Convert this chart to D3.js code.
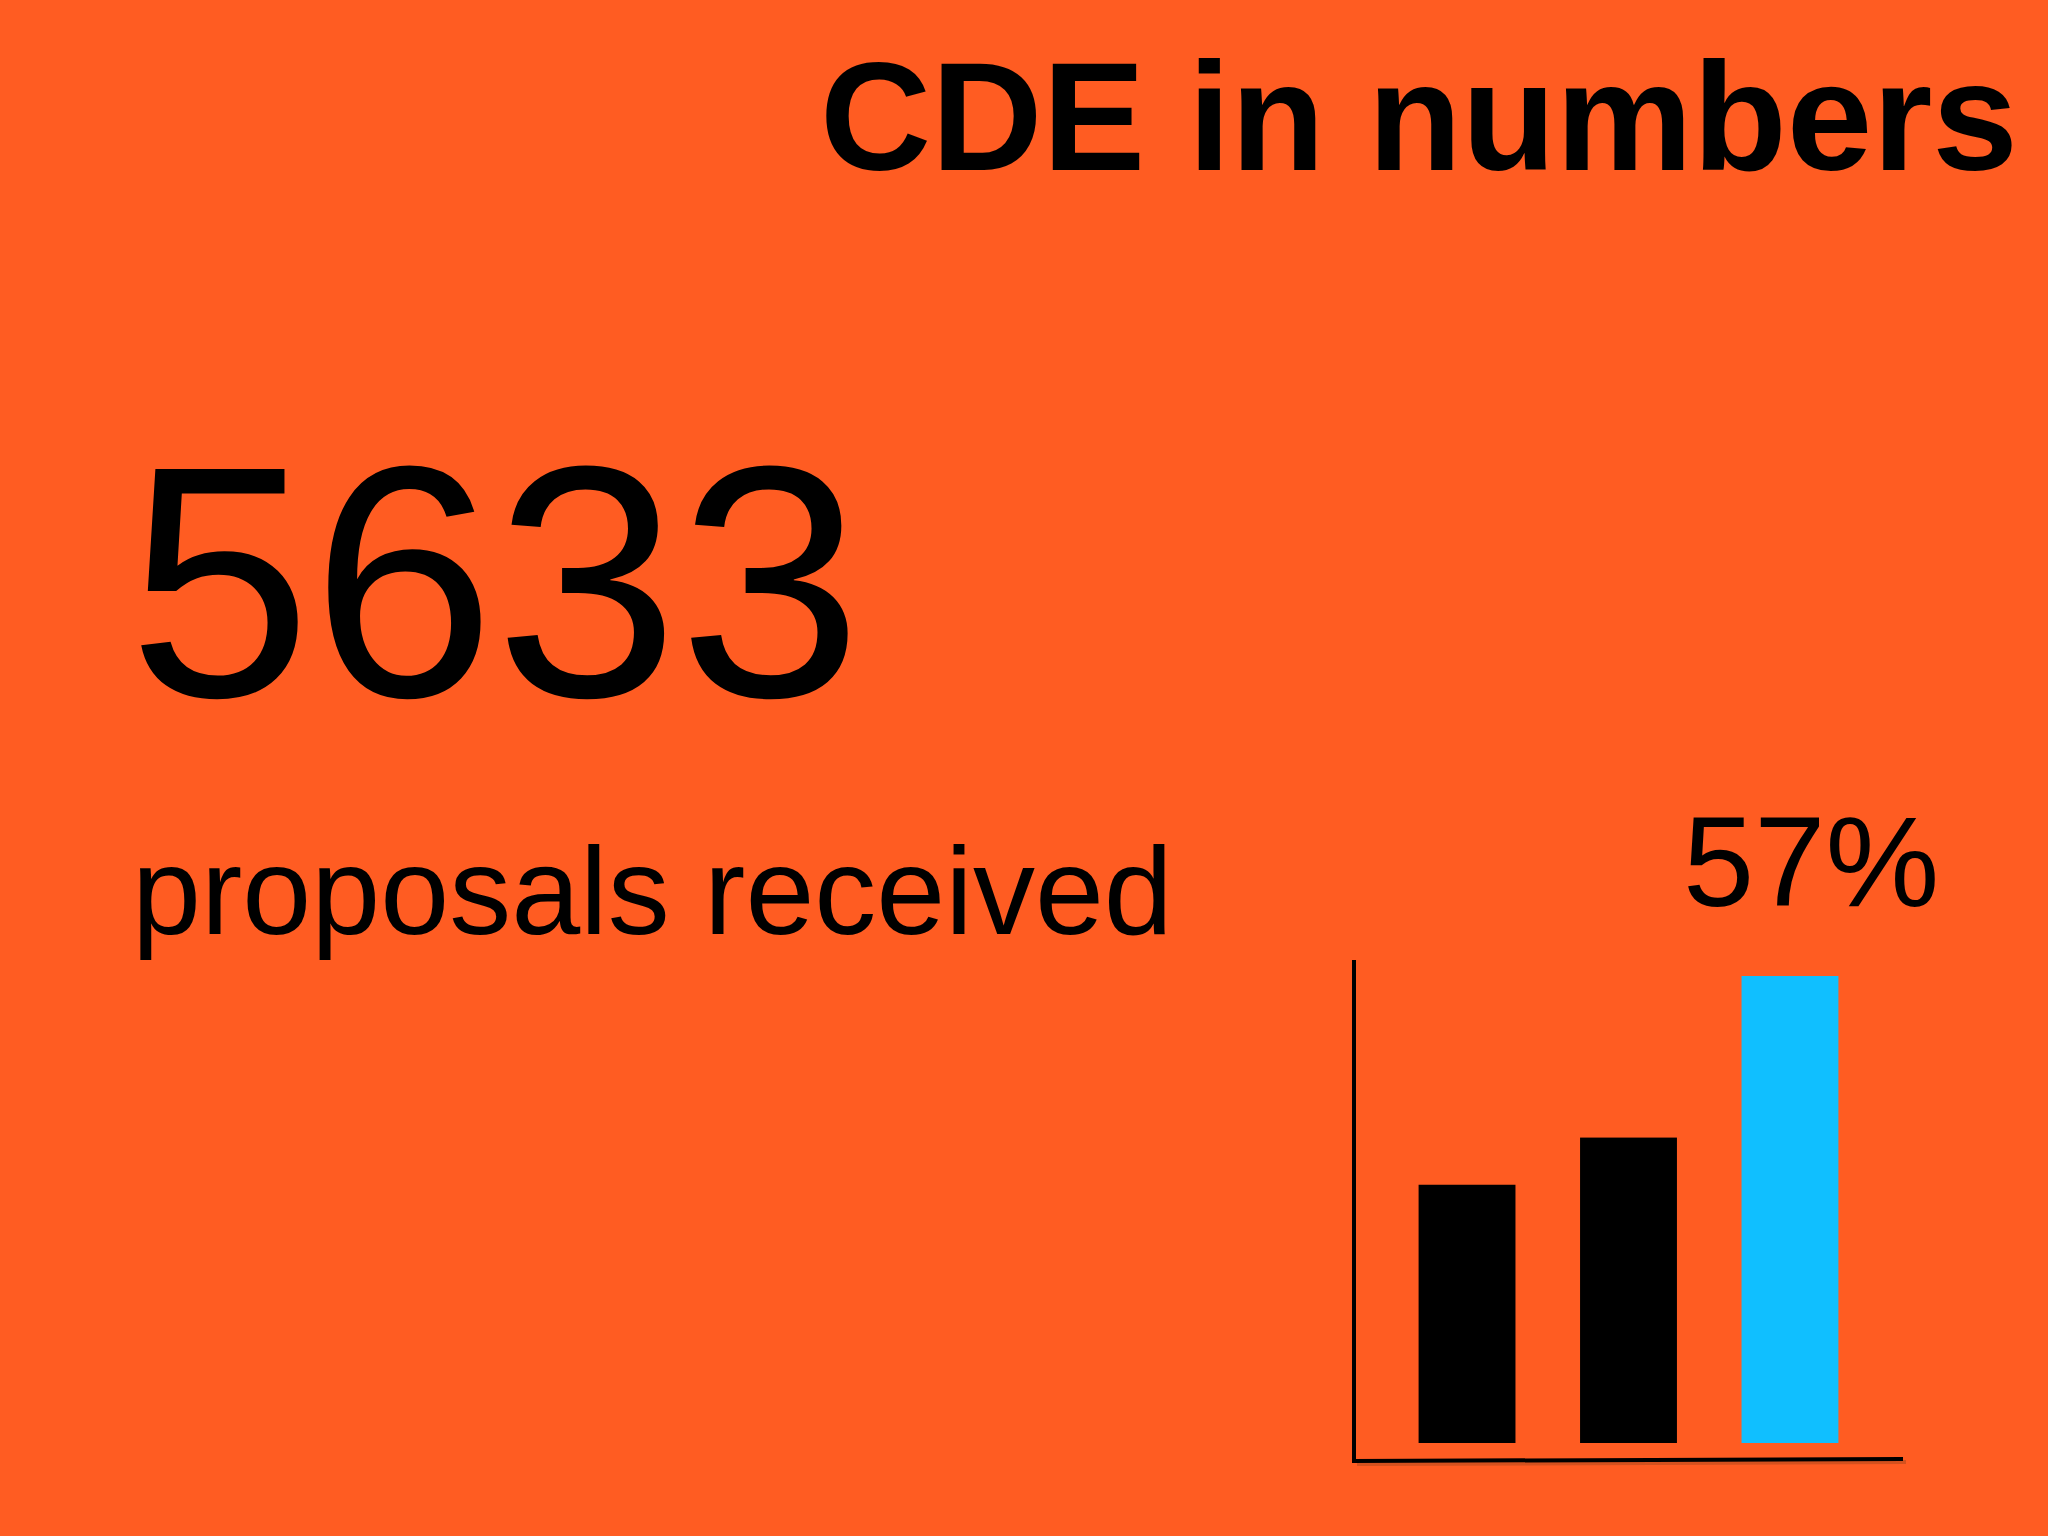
<!DOCTYPE html>
<html><head><meta charset="utf-8">
<script src="https://cdn.jsdelivr.net/npm/d3@7"></script>
<style>body{margin:0;background:#FF5C22}</style></head>
<body><script>
const categories = ["A", "B", "C"];
const values = [55.3, 65.4, 100];
const barColors = ["#000000", "#000000", "#10BFFF"];
const title = "CDE in numbers";
const bigNumber = "5633";
const bigLabel = "proposals received";
const pctLabel = "57%";

const W = 2048, H = 1536;
const svg = d3.select("body").append("svg").attr("width", W).attr("height", H);
svg.append("rect").attr("width", W).attr("height", H).attr("fill", "#FF5C22");
const font = "Liberation Sans, Arial, sans-serif";

svg.append("text").attr("x", 2018).attr("y", 170).attr("text-anchor", "end")
  .attr("font-family", font).attr("font-weight", "bold").attr("font-size", 154).text(title);
svg.append("text").attr("x", 128).attr("y", 696)
  .attr("font-family", font).attr("font-size", 330).text(bigNumber);
svg.append("text").attr("x", 132).attr("y", 934)
  .attr("font-family", font).attr("font-size", 124).text(bigLabel);
svg.append("text").attr("x", 1683).attr("y", 906)
  .attr("font-family", font).attr("font-size", 128).text(pctLabel);

const x = d3.scaleBand().domain(categories).range([1354, 1903]).paddingInner(0.4).paddingOuter(0.4);
const y = d3.scaleLinear().domain([0, 100]).range([1443, 976]);

svg.selectAll("rect.bar").data(values).join("rect").attr("class", "bar")
  .attr("x", (d, i) => x(categories[i])).attr("width", x.bandwidth())
  .attr("y", d => y(d)).attr("height", d => y(0) - y(d))
  .attr("fill", (d, i) => barColors[i]);

// axes
svg.append("line").attr("x1", 1357).attr("x2", 1906).attr("y1", 1464).attr("y2", 1462)
  .attr("stroke", "#b84a1c").attr("stroke-width", 4).attr("opacity", 0.6);
svg.append("line").attr("x1", 1354).attr("x2", 1354).attr("y1", 960).attr("y2", 1461)
  .attr("stroke", "#000").attr("stroke-width", 4);
svg.append("line").attr("x1", 1352).attr("x2", 1903).attr("y1", 1461).attr("y2", 1459)
  .attr("stroke", "#000").attr("stroke-width", 4);
</script></body></html>
